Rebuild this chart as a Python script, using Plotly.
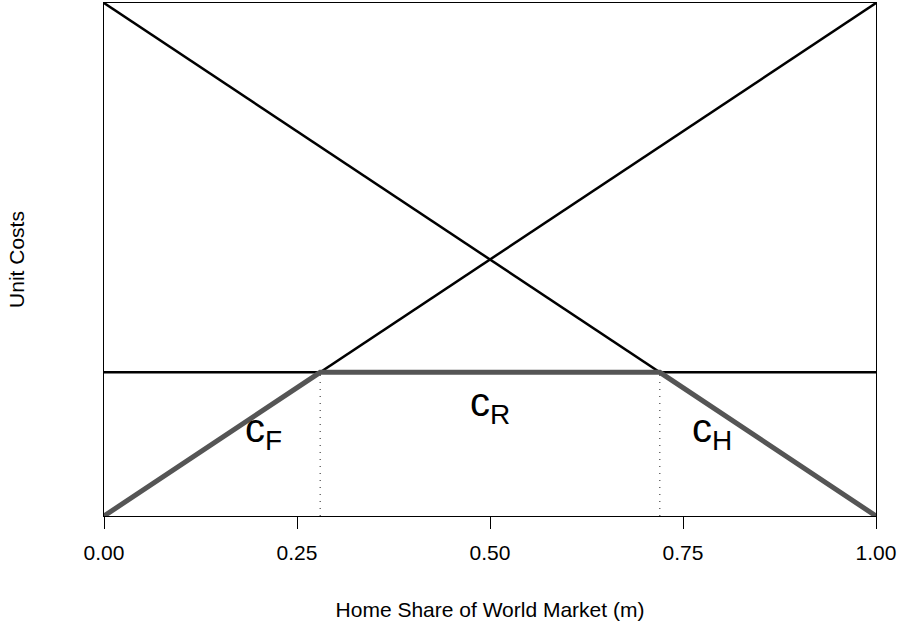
import plotly.graph_objects as go

# Home share of the world market (m) and the unit-cost schedules
m_pts = [0.0, 1.0]
home_cost = [1.0, 0.0]        # falls as the home share rises
foreign_cost = [0.0, 1.0]     # rises as the home share rises
reserve_cost = [0.28, 0.28]   # flat cost level c_R

# Lower envelope: min of the three cost schedules
env_m = [0.0, 0.28, 0.72, 1.0]
env_cost = [0.0, 0.28, 0.28, 0.0]

# Switch points where the envelope changes regime
switch_m = [0.28, 0.72]
switch_cost = 0.28

tick_vals = [0.0, 0.25, 0.5, 0.75, 1.0]
tick_text = ["0.00", "0.25", "0.50", "0.75", "1.00"]

labels = ["c<sub>F</sub>", "c<sub>R</sub>", "c<sub>H</sub>"]
label_m = [0.207, 0.5, 0.787]
label_cost = [0.166, 0.216, 0.166]

FONT = "Liberation Sans, Arial, Helvetica, sans-serif"

fig = go.Figure()

for x0 in switch_m:
    fig.add_trace(go.Scatter(
        x=[x0, x0], y=[0, switch_cost], mode="lines",
        line=dict(color="#222222", width=1, dash="1px,6px"),
        hoverinfo="skip", showlegend=False))

fig.add_trace(go.Scatter(x=m_pts, y=home_cost, mode="lines",
                         line=dict(color="black", width=2.5),
                         showlegend=False))
fig.add_trace(go.Scatter(x=m_pts, y=foreign_cost, mode="lines",
                         line=dict(color="black", width=2.5),
                         showlegend=False))
fig.add_trace(go.Scatter(x=m_pts, y=reserve_cost, mode="lines",
                         line=dict(color="black", width=2.5),
                         showlegend=False))
fig.add_trace(go.Scatter(x=env_m, y=env_cost, mode="lines",
                         line=dict(color="#555555", width=5),
                         showlegend=False))

for txt, lx, ly in zip(labels, label_m, label_cost):
    fig.add_annotation(x=lx, y=ly, text=txt, showarrow=False,
                       xanchor="center", yanchor="middle",
                       font=dict(family=FONT, size=40, color="black"))

fig.update_layout(
    width=903, height=622,
    margin=dict(l=104, r=27, t=3, b=106),
    paper_bgcolor="white", plot_bgcolor="white",
    font=dict(family=FONT, color="black"),
    xaxis=dict(
        range=[0, 1], showgrid=False, zeroline=False,
        showline=True, mirror=True, linecolor="black", linewidth=1.3,
        ticks="outside", ticklen=12, tickwidth=1, tickcolor="black",
        tickvals=tick_vals, ticktext=tick_text,
        tickfont=dict(family=FONT, size=21), ticklabelstandoff=6,
        title=dict(text="Home Share of World Market (m)",
                   font=dict(family=FONT, size=21), standoff=38),
        automargin=False,
    ),
    yaxis=dict(
        range=[0, 1], showgrid=False, zeroline=False,
        showline=True, mirror=True, linecolor="black", linewidth=1.3,
        showticklabels=False, ticks="",
        title=dict(text="Unit Costs", font=dict(family=FONT, size=21),
                   standoff=72),
        automargin=False,
    ),
)

fig.write_html("out.html")
